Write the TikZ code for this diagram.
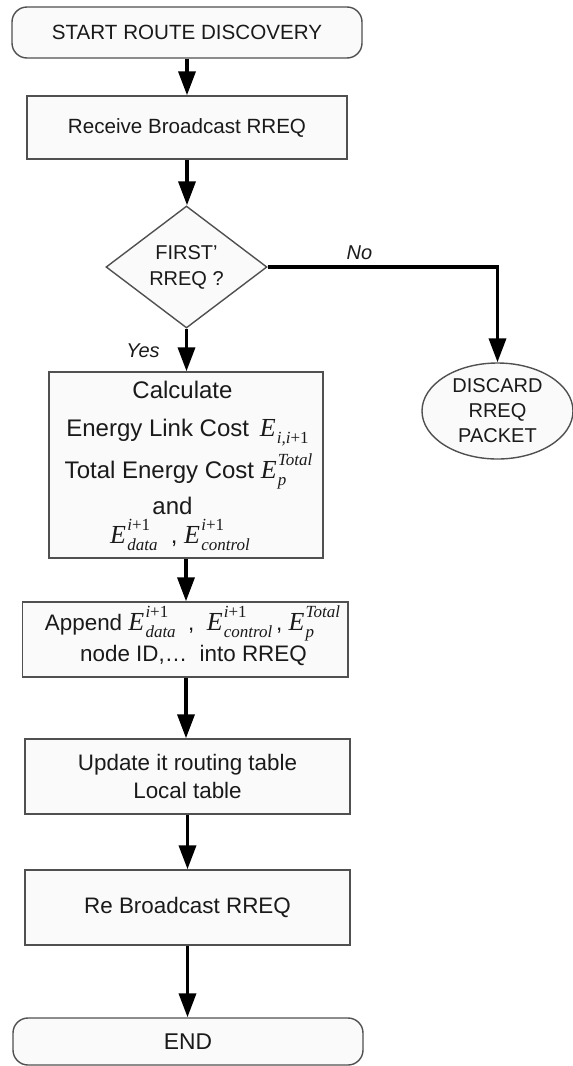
\documentclass[tikz,border=0pt]{standalone}
\usepackage{fontspec}
\setmainfont{Liberation Sans}
\newfontfamily\tms{Liberation Serif}
\usetikzlibrary{shapes.geometric,arrows.meta}
\definecolor{edge}{HTML}{505050}
\definecolor{boxfill}{HTML}{FAFAFA}
\definecolor{ink}{HTML}{1A1A1A}
% E with a superscript (#1) and a subscript (#2), set in Times-like italics
\newcommand\ES[2]{\mbox{{\tms\itshape\fontsize{13}{13}\selectfont E}\kern0.6pt%
  \setbox0=\hbox{\tms\itshape\fontsize{8.5}{9}\selectfont #1}%
  \setbox2=\hbox{\tms\itshape\fontsize{8.5}{9}\selectfont #2}%
  \ifdim\wd0>\wd2 \wd2=\wd0 \else \wd0=\wd2 \fi
  \rlap{\raisebox{6.5pt}{\box0}}\raisebox{-3.5pt}{\box2}}}
\newcommand\ipo{i\textup{+1}}
\tikzset{
  box/.style={draw=edge, line width=0.7pt, fill=boxfill, text=ink,
              inner sep=0pt, align=center},
  term/.style={box, rounded corners=7.5pt},
  decision/.style={box, diamond},
  stopper/.style={box, ellipse},
  line/.style={text=ink, inner sep=0pt, anchor=base},
  flow/.style={line width=1.8pt, draw=black, -{Triangle[length=12pt,width=8.5pt]}},
  tag/.style={font=\fontsize{10}{12}\selectfont\itshape, text=ink, inner sep=0pt, anchor=base}
}
\begin{document}
\begin{tikzpicture}[x=0.5pt,y=-0.5pt]
\useasboundingbox (0,0) rectangle (573,1066);

% terminals and process boxes
\node[term, minimum width=175pt, minimum height=25.5pt,
      font=\fontsize{10.3}{12}\selectfont] (start) at (187,32.5)
  {START ROUTE DISCOVERY};
\node[box, minimum width=160pt, minimum height=31.5pt,
      font=\fontsize{10.3}{12}\selectfont] (recv) at (187,127.5)
  {Receive Broadcast RREQ};
\node[decision, minimum width=80.5pt, minimum height=61pt,
      font=\fontsize{10}{13}\selectfont] (dec) at (186.5,267)
  {FIRST’\\RREQ ?};
\node[stopper, minimum width=75.5pt, minimum height=48pt,
      font=\fontsize{10}{12.5}\selectfont] (discard) at (497.5,411)
  {DISCARD\\RREQ\\PACKET};
\node[box, minimum width=137pt, minimum height=93pt] (calc) at (186,465) {};
\node[box, minimum width=162.7pt, minimum height=37.5pt] (append) at (185.3,639.5) {};
\node[box, minimum width=162.5pt, minimum height=37.5pt,
      font=\fontsize{11.2}{14}\selectfont] (update) at (187.5,776.5)
  {Update it routing table\\Local table};
\node[box, minimum width=162.5pt, minimum height=37.5pt,
      font=\fontsize{11.2}{13}\selectfont] (rebro) at (187.5,907.5)
  {Re Broadcast RREQ};
\node[term, minimum width=175pt, minimum height=23.5pt,
      font=\fontsize{11.4}{13}\selectfont] (finish) at (188,1041.5)
  {END};

% lines of the energy calculation box
\begin{scope}[font=\fontsize{12}{14}\selectfont]
\node[line] (calcA) at (182.5,398) {Calculate};
\node[line] (calcB) at (187.5,436) {Energy Link Cost\ \kern2pt\ES{}{i,\ipo}};
\node[line] (calcC) at (188.5,478) {Total Energy Cost \ES{Total}{p}};
\node[line] (calcD) at (172.5,514) {and};
\node[line] (calcE) at (180,543) {\ES{\ipo}{data}\ \ ,\ \ES{\ipo}{control}};
\end{scope}

% lines of the append box
\begin{scope}[font=\fontsize{11.2}{13}\selectfont]
\node[line] (appA) at (192.5,630)
  {Append \ES{\ipo}{data}\ \ ,\ \ \ES{\ipo}{control}\,,\ \ES{Total}{p}};
\node[line] (appB) at (193.5,661) {node ID,…\ \ into RREQ};
\end{scope}

\node[tag] (nolab) at (359.5,259) {No};
\node[tag] (yeslab) at (143,357) {Yes};

% connectors
\draw[flow] (start.south) -- (start.south |- recv.north);
\draw[flow] (recv.south) -- (recv.south |- dec.north);
\draw[flow] (dec.east) -| (discard.north);
\draw[flow] (dec.south) -- (dec.south |- calc.north);
\draw[flow] (calc.south) -- (calc.south |- append.north);
\draw[flow] (append.south -| calc.south) -- (calc.south |- update.north);
\draw[flow] (update.south) -- (update.south |- rebro.north);
\draw[flow] (rebro.south) -- (rebro.south |- finish.north);
\end{tikzpicture}
\end{document}
